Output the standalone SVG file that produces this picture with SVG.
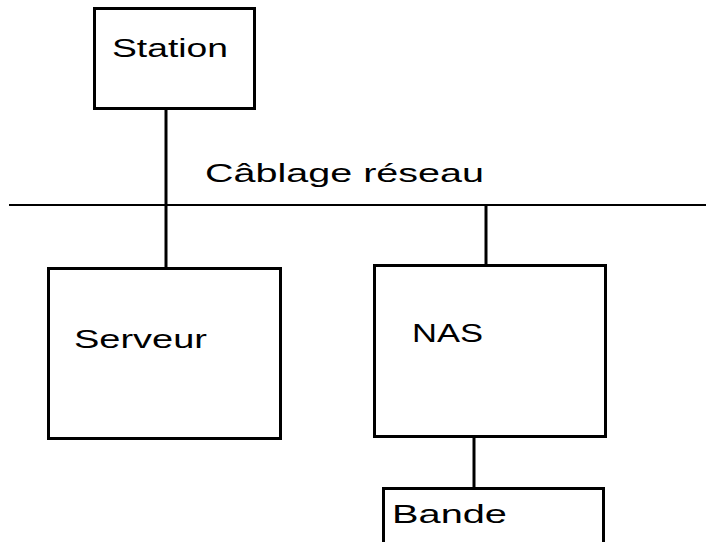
<svg xmlns="http://www.w3.org/2000/svg" width="706" height="542" viewBox="0 0 706 542">
<style>
.box{fill:#fff;stroke:#000;stroke-width:3}
.ln{stroke:#000;stroke-width:3;fill:none}
.t{font-family:"Liberation Sans",Arial,sans-serif;font-size:26px;fill:#000}
</style>
<rect width="706" height="542" fill="#fff"/>
<g id="connectors">
<line class="ln" x1="9" y1="205" x2="706" y2="205" style="stroke-width:2"/>
<line class="ln" x1="166" y1="110" x2="166" y2="268"/>
<line class="ln" x1="486" y1="205" x2="486" y2="265"/>
<line class="ln" x1="474" y1="437" x2="474" y2="488"/>
</g>
<g id="label-cablage">
<text class="t" x="205" y="182" textLength="279" lengthAdjust="spacingAndGlyphs">Câblage réseau</text>
</g>
<g id="station">
<rect class="box" x="94.5" y="8.5" width="160" height="100"/>
<text class="t" x="112" y="57" textLength="116" lengthAdjust="spacingAndGlyphs">Station</text>
</g>
<g id="serveur">
<rect class="box" x="48.5" y="268.5" width="232" height="170"/>
<text class="t" x="74" y="348" textLength="133" lengthAdjust="spacingAndGlyphs">Serveur</text>
</g>
<g id="nas">
<rect class="box" x="374.5" y="265.5" width="231" height="171"/>
<text class="t" x="412" y="342" textLength="71" lengthAdjust="spacingAndGlyphs">NAS</text>
</g>
<g id="bande">
<path class="ln" d="M383.5 545 V488.5 H603.5 V545"/>
<text class="t" x="392" y="523" textLength="115" lengthAdjust="spacingAndGlyphs">Bande</text>
</g>
</svg>
